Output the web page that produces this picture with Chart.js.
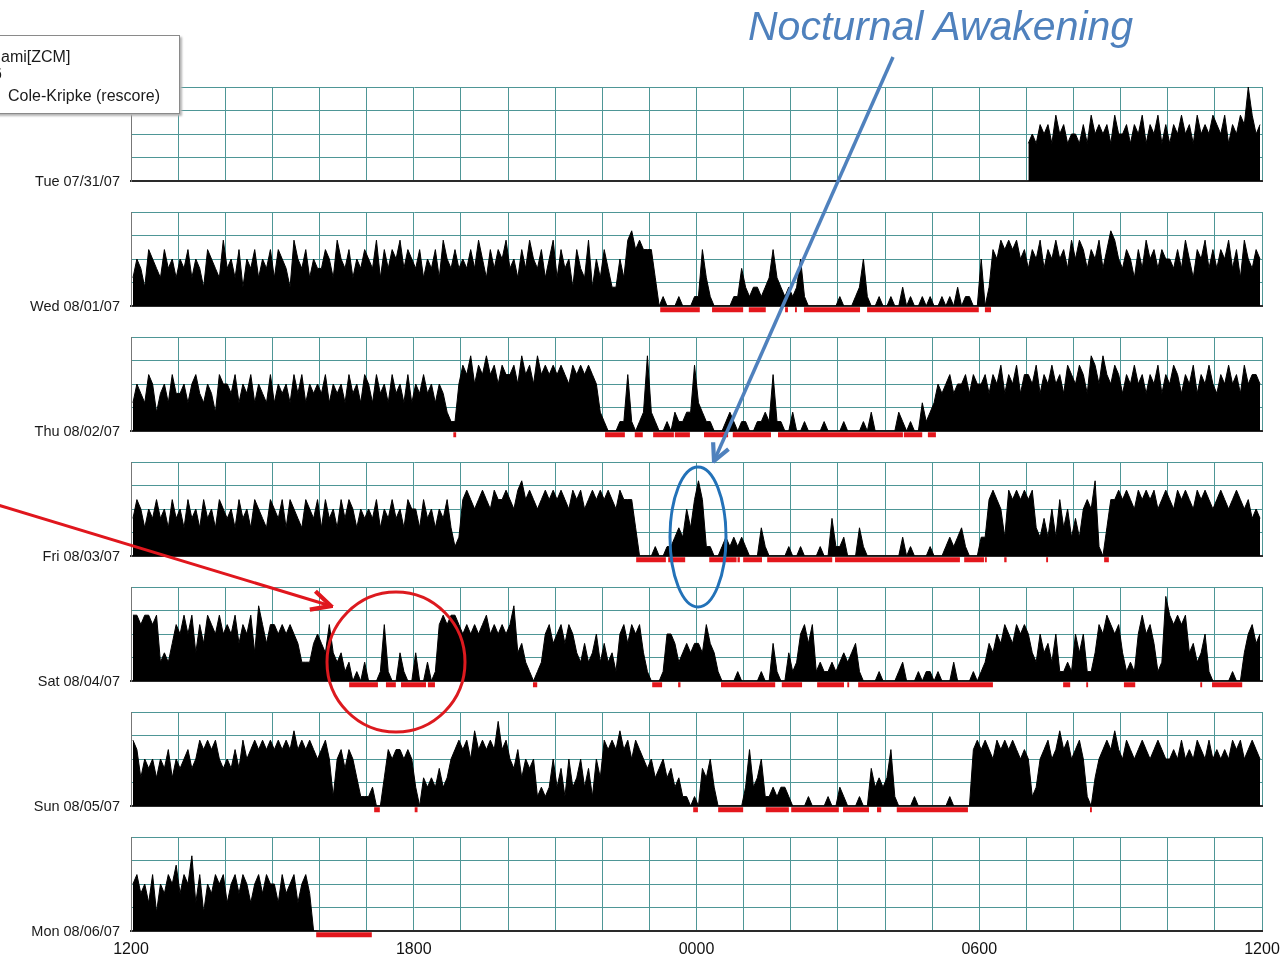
<!DOCTYPE html>
<html>
<head>
<meta charset="utf-8">
<script src="https://cdn.jsdelivr.net/npm/chart.js@4.4.1/dist/chart.umd.min.js"></script>
<style>
    body { margin: 0; background: #fff; font-family: 'Liberation Sans', Arial, sans-serif; }
    #page { position: relative; width: 1281px; height: 963px; overflow: hidden; }
    #page canvas { position: absolute; left: 0; }
    .day-label { position: absolute; left: 0; width: 120px; text-align: right; font-size: 14.5px; line-height: 18px; color: #1a1a1a; z-index: 3; }
    .legend-box { position: absolute; left: -60px; top: 35px; width: 238px; height: 77px; background: #fff; border: 1px solid #8a8a8a; box-shadow: 2px 2px 2px #b5b5b5; z-index: 4; }
    .legend-box span { position: absolute; font-size: 16px; line-height: 18px; color: #1a1a1a; white-space: nowrap; }
    #marks { position: absolute; left: 0; top: 0; z-index: 5; pointer-events: none; }
</style>
</head>
<body>
<div id="page">
    <div class="legend-box">
        <span style="left:60px; top:12px;">ami[ZCM]</span>
        <span style="left:52px; top:29px;">6</span>
        <span style="left:67px; top:51px;">Cole-Kripke (rescore)</span>
    </div>
    <svg id="marks" width="1281" height="963">
        <defs>
            <marker id="headBlue" viewBox="0 0 10 10" refX="9" refY="5" markerWidth="6" markerHeight="6" orient="auto">
                <path d="M1,1 L9,5 L1,9" fill="none" stroke="#4f81bd" stroke-width="2"/>
            </marker>
            <marker id="headRed" viewBox="0 0 10 10" refX="9" refY="5" markerWidth="8" markerHeight="8" orient="auto">
                <path d="M1,1 L9,5 L1,9" fill="none" stroke="#e0161d" stroke-width="1.8"/>
            </marker>
        </defs>
        <text x="748" y="40" font-family="Liberation Sans, Arial, sans-serif" font-style="italic" font-size="41" fill="#4f81bd">Nocturnal Awakening</text>
        <line x1="893" y1="57" x2="714" y2="461" stroke="#4f81bd" stroke-width="3.5" marker-end="url(#headBlue)"/>
        <ellipse cx="698" cy="537" rx="28" ry="70" fill="none" stroke="#2372b8" stroke-width="3"/>
        <line x1="-2" y1="505" x2="331" y2="606" stroke="#e0161d" stroke-width="3" marker-end="url(#headRed)"/>
        <ellipse cx="396" cy="662" rx="69" ry="70" fill="none" stroke="#dc1a1f" stroke-width="3"/>
    </svg>
</div>
<script>
    // activity per 5-minute epoch, one 12-char string per hour starting at 1200, '' = no data
    const dayNames = ['Tue 07/31/07', 'Wed 08/01/07', 'Thu 08/02/07', 'Fri 08/03/07', 'Sat 08/04/07', 'Sun 08/05/07', 'Mon 08/06/07'];
    const tickLabels = ['1200', '1800', '0000', '0600', '1200'];

    const tueAct = ['', '', '', '', '', '', '', '', '', '', '', '', '', '', '', '', '', '', '',
        '454656475645', '546475656475', '564657465746', '465756475657', '65746576a756'];

    const wedAct = ['354265436453', '546354265437', '453625463546', '365427546354', '465375463546', '547364657465',
        '463546375464', '546475364657', '453647546357', '364526437253', '642253786766', '630100010001',
        '163100000114', '212212363212', '125100000000', '100012510010', '010020100101', '001010201100',
        '502657676756', '465746575647', '576465746875', '465364756465', '546475365746', '465746375465'];

    const thuAct = ['354365245364', '453564354265', '546354635436', '354536463545', '463545364536', '536453645363',
        '546453542115', '768576867576', '675867586767', '676576767652', '100011610128', '210010211227',
        '321100012101', '100112161100', '200100001000', '010000102000', '000210100312', '354564556465',
        '564657465746', '657465756476', '576487586576', '465756465746', '576465746575', '465756475665'];

    const friAct = ['465354645364', '536453645365', '453645365436', '546365436546', '364536465354', '546354645365',
        '536453546312', '676567657667', '657867656767', '676576756767', '676576663000', '010011232536',
        '861100121212', '100031000001', '001000010041', '120003100000', '000020100001', '000121231000',
        '226765276767', '673242526352', '425658103667', '676576767567', '657676576765', '676567656454'];

    const satAct = ['776776723246', '575736476575', '657465738646', '656565422245', '436323120102', '000161003100',
        '300201676776', '565656756565', '683421012564', '564653242352', '423156465631', '000155423434',
        '436431000010', '000010041003', '125646121121', '232341000010', '000120001011', '010002000010',
        '124354654656', '532534251121', '535113657656', '312157564129', '767673423510', '000010035645'];

    const sunAct = ['763545354635', '456457676754', '546475676767', '676768676765', '675156465311', '120036566565',
        '203232423567', '675867676967', '546354512125', '241523524153', '767686757654', '534534231101',
        '043520000000', '262351121221', '000010000100', '210001004232', '361000010000', '000010000067',
        '676576767656', '512567568675', '675103567686', '576567656765', '565756576575', '656576756765'];

    const monAct = ['564536254657', '465836254656', '356465356465', '536456356400',
        '', '', '', '', '', '', '', '', '', '', '', '', '', '', '', ''];

    // sleep periods scored by Cole-Kripke, [start, end] in hours after 1200
    const tueSleep = [];
    const wedSleep = [[11.23, 12.07], [12.33, 12.99], [13.11, 13.47], [13.88, 13.94], [14.09, 14.13], [14.28, 15.47],
        [15.62, 17.99], [18.12, 18.25]];
    const thuSleep = [[6.84, 6.90], [10.06, 10.48], [10.69, 10.86], [11.08, 11.52], [11.54, 11.86], [12.16, 12.67],
        [12.77, 13.58], [13.73, 16.38], [16.40, 16.79], [16.91, 17.08]];
    const friSleep = [[10.72, 11.35], [11.40, 11.76], [12.27, 12.85], [12.87, 12.92], [12.99, 13.39], [13.50, 14.88],
        [14.94, 17.59], [17.68, 18.10], [18.12, 18.16], [18.53, 18.58], [19.42, 19.46], [20.65, 20.75]];
    const satSleep = [[4.63, 5.24], [5.41, 5.62], [5.73, 6.26], [6.30, 6.45], [8.53, 8.62], [11.06, 11.27],
        [11.61, 11.66], [12.52, 13.67], [13.81, 14.24], [14.56, 15.13], [15.20, 15.24], [15.43, 18.29],
        [19.78, 19.93], [20.27, 20.31], [21.07, 21.31], [22.69, 22.73], [22.94, 23.58]];
    const sunSleep = [[5.16, 5.28], [6.02, 6.08], [11.93, 12.03], [12.46, 12.99], [13.47, 13.96], [14.01, 15.02],
        [15.11, 15.66], [15.83, 15.92], [16.25, 17.76], [20.35, 20.39]];
    const monSleep = [[3.93, 5.11]];

    const activity = [tueAct, wedAct, thuAct, friAct, satAct, sunAct, monAct];
    const sleep = [tueSleep, wedSleep, thuSleep, friSleep, satSleep, sunSleep, monSleep];

    const GRID = 'rgb(78,150,150)';
    const PANEL_TOP = 87;
    const PANEL_STEP = 125;
    const PANEL_H = 94;
    const PAD_TOP = 3;
    const AXIS_H = 29;
    const SLEEP_Y = -0.4;

    const page = document.getElementById('page');

    function toPoints(hours) {
        const pts = [];
        hours.forEach((chunk, h) => {
            if (!chunk) {
                pts.push({x: h + 0.5, y: null});
                return;
            }
            const n = chunk.length;
            chunk.split('').forEach((c, j) => {
                pts.push({x: h + (j + 0.5) / n, y: c === '.' ? null : parseInt(c, 36)});
            });
        });
        return pts;
    }

    function sleepPoints(list) {
        const pts = [];
        list.forEach(([s, e]) => {
            pts.push({x: s, y: SLEEP_Y}, {x: e, y: SLEEP_Y}, {x: e, y: null});
        });
        return pts;
    }

    dayNames.forEach((name, i) => {
        const isLast = i === dayNames.length - 1;
        const top = PANEL_TOP + PANEL_STEP * i;
        const padBottom = isLast ? 5 : 12;
        const height = PAD_TOP + PANEL_H + (isLast ? AXIS_H : 0) + padBottom;

        const canvas = document.createElement('canvas');
        canvas.width = 1281;
        canvas.height = height;
        canvas.style.top = `${top - PAD_TOP}px`;
        page.appendChild(canvas);

        const label = document.createElement('div');
        label.className = 'day-label';
        label.style.top = `${top + PANEL_H - 9}px`;
        label.textContent = name;
        page.appendChild(label);

        new Chart(canvas.getContext('2d'), {
            type: 'line',
            data: {
                datasets: [{
                    data: toPoints(activity[i]),
                    borderColor: '#000',
                    backgroundColor: '#000',
                    borderWidth: 1,
                    fill: 'origin',
                    pointRadius: 0,
                    tension: 0,
                    spanGaps: false
                }, {
                    data: sleepPoints(sleep[i]),
                    borderColor: '#e3161c',
                    borderWidth: 5,
                    borderCapStyle: 'butt',
                    fill: false,
                    pointRadius: 0,
                    spanGaps: false,
                    clip: false
                }]
            },
            options: {
                responsive: false,
                animation: false,
                devicePixelRatio: 1,
                events: [],
                layout: {padding: {left: 131, right: 19, top: PAD_TOP, bottom: padBottom}},
                plugins: {legend: {display: false}, tooltip: {enabled: false}},
                scales: {
                    x: {
                        type: 'linear',
                        min: 0,
                        max: 24,
                        grid: {color: GRID, drawTicks: false},
                        border: {color: '#2a2a2a', width: 2},
                        ticks: {
                            display: isLast,
                            stepSize: 1,
                            autoSkip: false,
                            maxRotation: 0,
                            padding: 9,
                            color: '#111',
                            font: {family: 'Liberation Sans', size: 16, lineHeight: 1.25},
                            callback: (v) => (v % 6 === 0 ? tickLabels[v / 6] : '')
                        },
                        afterFit: (scale) => {
                            // keep every panel the same width and height
                            scale.height = isLast ? AXIS_H : 0;
                            scale.paddingLeft = 0;
                            scale.paddingRight = 0;
                        }
                    },
                    y: {
                        min: 0,
                        max: 10,
                        grid: {color: GRID, drawTicks: false},
                        border: {color: '#777', width: 1},
                        ticks: {display: false, stepSize: 2.5}
                    }
                }
            }
        });
    });
</script>
</body>
</html>
